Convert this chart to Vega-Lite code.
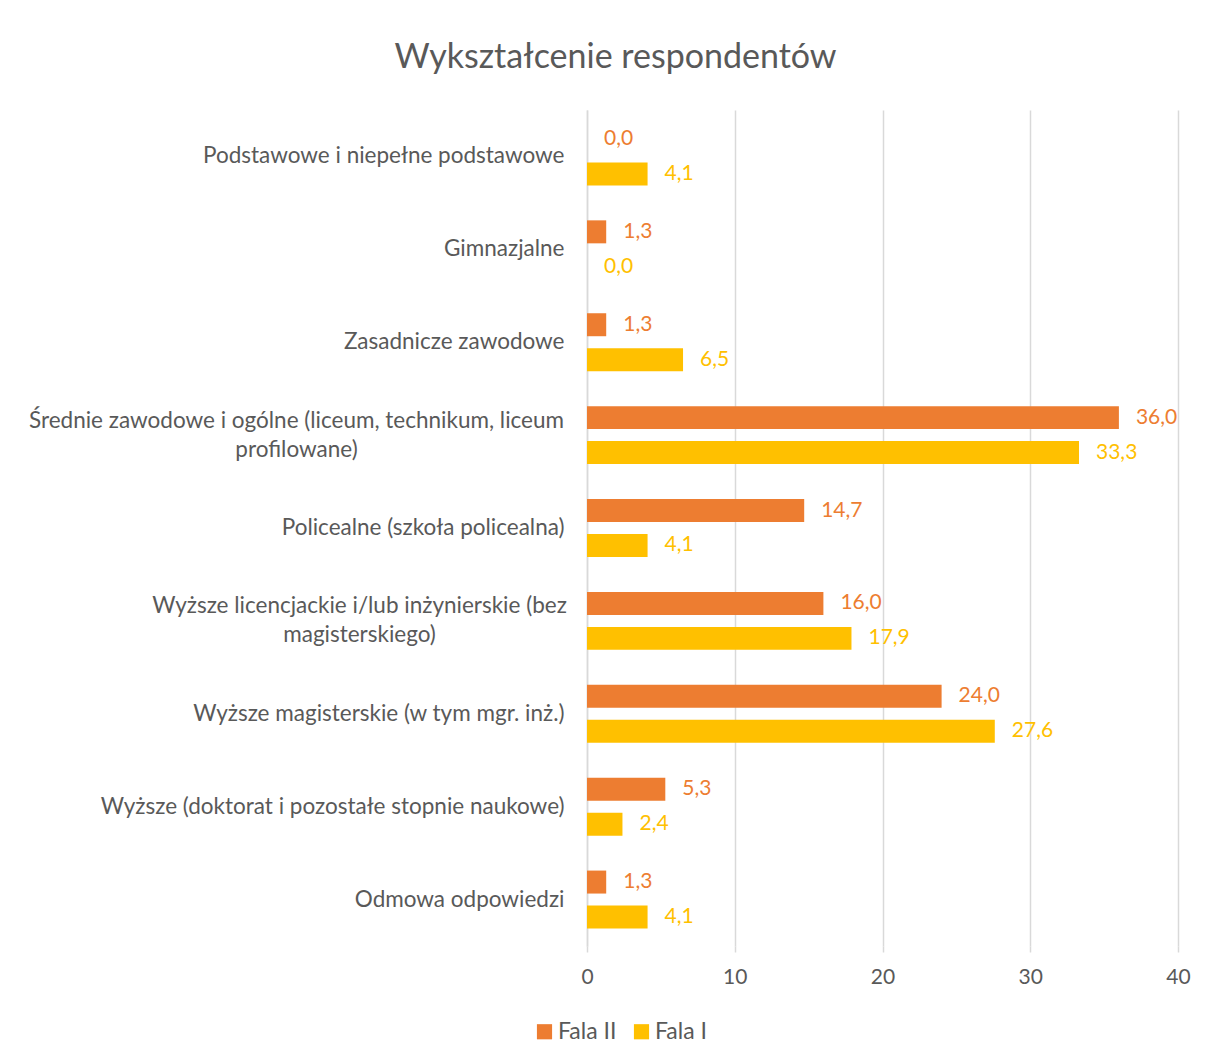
{
  "$schema": "https://vega.github.io/schema/vega-lite/v6.json",
  "autosize": {"type": "none"},
  "padding": {"left": 587, "top": 110, "right": 30, "bottom": 116},
  "width": 591,
  "height": 836,
  "background": "white",
  "title": {
    "text": "Wykształcenie respondentów",
    "anchor": "middle",
    "dx": -267,
    "offset": 35,
    "fontSize": 34,
    "font": "Lato",
    "fontWeight": "normal",
    "color": "#595959"
  },
  "data": {
    "values": [
      {"kategoria": "Podstawowe i niepełne podstawowe", "fala": "Fala II", "wartosc": 0.0},
      {"kategoria": "Podstawowe i niepełne podstawowe", "fala": "Fala I", "wartosc": 4.1},
      {"kategoria": "Gimnazjalne", "fala": "Fala II", "wartosc": 1.3},
      {"kategoria": "Gimnazjalne", "fala": "Fala I", "wartosc": 0.0},
      {"kategoria": "Zasadnicze zawodowe", "fala": "Fala II", "wartosc": 1.3},
      {"kategoria": "Zasadnicze zawodowe", "fala": "Fala I", "wartosc": 6.5},
      {"kategoria": "Średnie zawodowe i ogólne (liceum, technikum, liceum profilowane)", "fala": "Fala II", "wartosc": 36.0},
      {"kategoria": "Średnie zawodowe i ogólne (liceum, technikum, liceum profilowane)", "fala": "Fala I", "wartosc": 33.3},
      {"kategoria": "Policealne (szkoła policealna)", "fala": "Fala II", "wartosc": 14.7},
      {"kategoria": "Policealne (szkoła policealna)", "fala": "Fala I", "wartosc": 4.1},
      {"kategoria": "Wyższe licencjackie i/lub inżynierskie (bez magisterskiego)", "fala": "Fala II", "wartosc": 16.0},
      {"kategoria": "Wyższe licencjackie i/lub inżynierskie (bez magisterskiego)", "fala": "Fala I", "wartosc": 17.9},
      {"kategoria": "Wyższe magisterskie (w tym mgr. inż.)", "fala": "Fala II", "wartosc": 24.0},
      {"kategoria": "Wyższe magisterskie (w tym mgr. inż.)", "fala": "Fala I", "wartosc": 27.6},
      {"kategoria": "Wyższe (doktorat i pozostałe stopnie naukowe)", "fala": "Fala II", "wartosc": 5.3},
      {"kategoria": "Wyższe (doktorat i pozostałe stopnie naukowe)", "fala": "Fala I", "wartosc": 2.4},
      {"kategoria": "Odmowa odpowiedzi", "fala": "Fala II", "wartosc": 1.3},
      {"kategoria": "Odmowa odpowiedzi", "fala": "Fala I", "wartosc": 4.1}
    ]
  },
  "encoding": {
    "y": {
      "field": "kategoria",
      "type": "nominal",
      "sort": null,
      "scale": {"paddingInner": 0.376, "paddingOuter": 0.188},
      "axis": {
        "title": null,
        "ticks": false,
        "domain": true,
        "domainColor": "#d9d9d9",
        "domainWidth": 1.5,
        "labelFont": "Lato",
        "labelFontSize": 22.5,
        "labelColor": "#595959",
        "labelLimit": 700,
        "labelLineHeight": 29,
        "labelExpr": "datum.value == 'Średnie zawodowe i ogólne (liceum, technikum, liceum profilowane)' ? ['Średnie zawodowe i ogólne (liceum, technikum, liceum', 'profilowane)'] : datum.value == 'Wyższe licencjackie i/lub inżynierskie (bez magisterskiego)' ? ['Wyższe licencjackie i/lub inżynierskie (bez', 'magisterskiego)'] : datum.label",
        "labelAlign": {
          "condition": {"test": "datum.value == 'Średnie zawodowe i ogólne (liceum, technikum, liceum profilowane)' || datum.value == 'Wyższe licencjackie i/lub inżynierskie (bez magisterskiego)'", "value": "center"},
          "value": "right"
        },
        "labelPadding": {
          "condition": [
            {"test": "datum.value == 'Średnie zawodowe i ogólne (liceum, technikum, liceum profilowane)'", "value": 291},
            {"test": "datum.value == 'Wyższe licencjackie i/lub inżynierskie (bez magisterskiego)'", "value": 228}
          ],
          "value": 23
        },
        "labelOffset": {
          "condition": {"test": "datum.value == 'Średnie zawodowe i ogólne (liceum, technikum, liceum profilowane)' || datum.value == 'Wyższe licencjackie i/lub inżynierskie (bez magisterskiego)'", "value": -14.5},
          "value": 0
        }
      }
    },
    "yOffset": {
      "field": "fala",
      "type": "nominal",
      "scale": {"domain": ["Fala II", "Fala I"], "paddingInner": 0.343, "paddingOuter": 0}
    },
    "x": {
      "field": "wartosc",
      "type": "quantitative",
      "scale": {"domain": [0, 40], "nice": false},
      "axis": {
        "title": null,
        "values": [0, 10, 20, 30, 40],
        "domain": false,
        "ticks": true,
        "tickSize": 6,
        "tickColor": "#d9d9d9",
        "tickWidth": 1.5,
        "grid": true,
        "gridColor": "#d9d9d9",
        "gridWidth": 1.5,
        "labelFlush": false,
        "labelFont": "Lato",
        "labelFontSize": 21,
        "labelColor": "#595959",
        "labelPadding": 14
      }
    },
    "color": {
      "field": "fala",
      "type": "nominal",
      "scale": {"domain": ["Fala II", "Fala I"], "range": ["#ED7D31", "#FFC000"]},
      "legend": {
        "title": null,
        "orient": "none",
        "direction": "horizontal",
        "legendX": -54,
        "legendY": 910,
        "symbolType": "square",
        "symbolSize": 230,
        "symbolStrokeWidth": 0,
        "symbolOpacity": 1,
        "labelFont": "Lato",
        "labelFontSize": 23,
        "labelColor": "#595959",
        "labelOffset": 2,
        "columnPadding": 13
      }
    }
  },
  "layer": [
    {"mark": {"type": "bar", "opacity": 1}},
    {
      "mark": {"type": "text", "align": "left", "baseline": "middle", "dx": 17, "font": "Lato", "fontSize": 21},
      "encoding": {
        "text": {"field": "wartosc", "type": "quantitative", "format": ".1f"}
      }
    }
  ],
  "config": {
    "view": {"stroke": null},
    "locale": {
      "number": {"decimal": ",", "thousands": " ", "grouping": [3], "currency": ["", " zł"]}
    }
  }
}
